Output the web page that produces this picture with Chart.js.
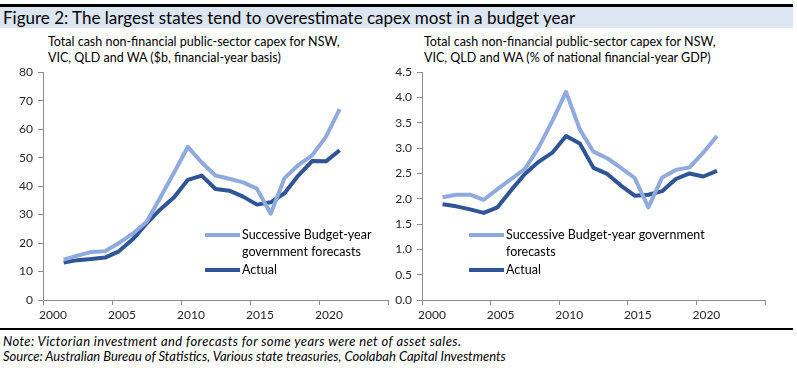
<!DOCTYPE html>
<html>
<head>
<meta charset="utf-8">
<script src="https://cdn.jsdelivr.net/npm/chart.js@4.4.1/dist/chart.umd.min.js"></script>
<style>
  body { margin: 0; background: #fff; font-family: Lato, sans-serif; color: #000; }
  #wrap { position: relative; width: 797px; height: 368px; overflow: hidden; }
  .abs { position: absolute; white-space: nowrap; }
  .rule { position: absolute; left: 0; width: 793px; background: #000; }
  #band { position: absolute; left: 0; top: 7px; width: 793px; height: 21px; background: #DCE6F2; }
  #title { left: 3px; top: 7px; font-size: 17px; line-height: 21px; }
  .sub { font-size: 12.5px; line-height: 16px; top: 34px; }
  #notes { left: 3px; top: 334px; font-size: 13px; line-height: 15px; font-style: italic; }
  canvas { position: absolute; }
</style>
</head>
<body>
<div id="wrap">
  <div class="rule" style="top:4px;height:3px"></div>
  <div id="band"></div>
  <div id="title" class="abs">Figure 2: The largest states tend to overestimate capex most in a budget year</div>
  <div class="abs sub" style="left:48px">Total cash non-financial public-sector capex for NSW,<br>VIC, QLD and WA ($b, financial-year basis)</div>
  <div class="abs sub" style="left:424px">Total cash non-financial public-sector capex for NSW,<br>VIC, QLD and WA (% of national financial-year GDP)</div>
  <canvas id="leftChart" width="392" height="270" style="left:0;top:60px"></canvas>
  <canvas id="rightChart" width="405" height="270" style="left:392px;top:60px"></canvas>
  <div class="rule" style="top:328px;height:2px"></div>
  <div id="notes" class="abs"><span style="letter-spacing:0.4px">Note: Victorian investment and forecasts for some years were net of asset sales.</span><br>Source: Australian Bureau of Statistics, Various state treasuries, Coolabah Capital Investments</div>
</div>
<script>
// financial years, plotted mid-year
const finYears = [2001.5, 2002.5, 2003.5, 2004.5, 2005.5, 2006.5, 2007.5, 2008.5, 2009.5, 2010.5,
                  2011.5, 2012.5, 2013.5, 2014.5, 2015.5, 2016.5, 2017.5, 2018.5, 2019.5, 2020.5, 2021.5];
const xTickLabels = [2000, 2005, 2010, 2015, 2020];

// $b
const forecastBn = [14.2, 15.6, 16.9, 17.1, 20.0, 23.3, 27.4, 36.0, 44.8, 53.8,
                    48.3, 43.7, 42.6, 41.3, 39.1, 30.3, 42.8, 47.4, 50.8, 57.3, 67.0];
const actualBn = [13.2, 14.0, 14.4, 14.9, 17.1, 21.3, 26.8, 31.8, 36.1, 42.2,
                  43.7, 39.0, 38.4, 36.3, 33.5, 34.3, 37.5, 43.7, 48.8, 48.7, 52.6];

// % of GDP
const forecastPct = [2.03, 2.08, 2.08, 1.98, 2.19, 2.39, 2.59, 3.01, 3.54, 4.11,
                     3.37, 2.93, 2.80, 2.61, 2.41, 1.83, 2.42, 2.57, 2.62, 2.91, 3.24];
const actualPct = [1.89, 1.85, 1.79, 1.72, 1.83, 2.17, 2.49, 2.73, 2.91, 3.24,
                   3.09, 2.61, 2.49, 2.26, 2.06, 2.08, 2.15, 2.39, 2.50, 2.44, 2.55];

const lightBlue = '#8FAADC';
const darkBlue = '#2F5597';
const axisGrey = '#8C8C8C';

Chart.defaults.font.family = 'Lato, sans-serif';
Chart.defaults.font.size = 12;
Chart.defaults.color = '#262626';

const inlineLegend = {
    id: 'inlineLegend',
    afterDatasetsDraw(chart, args, opts) {
        const ctx = chart.ctx;
        ctx.save();
        ctx.font = '12.5px Lato, sans-serif';
        ctx.textBaseline = 'middle';
        ctx.fillStyle = '#000';
        let y = opts.y;
        chart.data.datasets.forEach((ds, i) => {
            ctx.strokeStyle = ds.borderColor;
            ctx.lineWidth = 4;
            ctx.beginPath();
            ctx.moveTo(opts.x, y);
            ctx.lineTo(opts.x + 35, y);
            ctx.stroke();
            opts.lines[i].forEach((t, j) => ctx.fillText(t, opts.x + 37, y + j * 17));
            y += opts.lines[i].length * 17 + 1;
        });
        ctx.restore();
    }
};

function points(vals) {
    return vals.map((v, i) => ({ x: finYears[i], y: v }));
}

function makeChart(id, forecast, actual, yMax, yStep, yWidth, padRight, legend, fmt) {
    return new Chart(document.getElementById(id).getContext('2d'), {
        type: 'line',
        data: {
            datasets: [{
                label: 'Successive Budget-year government forecasts',
                data: points(forecast),
                borderColor: lightBlue,
                borderWidth: 4,
                pointRadius: 0,
                tension: 0,
                borderJoinStyle: 'round'
            }, {
                label: 'Actual',
                data: points(actual),
                borderColor: darkBlue,
                borderWidth: 4,
                pointRadius: 0,
                tension: 0,
                borderJoinStyle: 'round'
            }]
        },
        options: {
            responsive: false,
            animation: false,
            devicePixelRatio: 1,
            layout: { padding: { top: 11, right: padRight, left: 0, bottom: 0 } },
            plugins: {
                legend: { display: false },
                tooltip: { enabled: false },
                inlineLegend: legend
            },
            scales: {
                x: {
                    type: 'linear',
                    min: 2000,
                    max: 2025,
                    grid: { drawOnChartArea: false, color: axisGrey, tickLength: 5 },
                    border: { color: axisGrey },
                    ticks: {
                        stepSize: 5,
                        labelOffset: 10,
                        maxRotation: 0,
                        padding: 3,
                        callback: v => xTickLabels.includes(v) ? String(v) : ''
                    },
                    afterFit: s => { s.height = 30; }
                },
                y: {
                    min: 0,
                    max: yMax,
                    grid: { drawOnChartArea: false, color: axisGrey, tickLength: 5 },
                    border: { color: axisGrey },
                    ticks: { stepSize: yStep, padding: 5, callback: fmt },
                    afterFit: s => { s.width = yWidth; }
                }
            }
        },
        plugins: [inlineLegend]
    });
}

makeChart('leftChart', forecastBn, actualBn, 80, 10, 43, 4,
    { x: 205, y: 175, lines: [['Successive Budget-year', 'government forecasts'], ['Actual']] },
    v => String(v));

makeChart('rightChart', forecastPct, actualPct, 4.5, 0.5, 30, 32,
    { x: 77, y: 175, lines: [['Successive Budget-year government', 'forecasts'], ['Actual']] },
    v => v.toFixed(1));
</script>
</body>
</html>
